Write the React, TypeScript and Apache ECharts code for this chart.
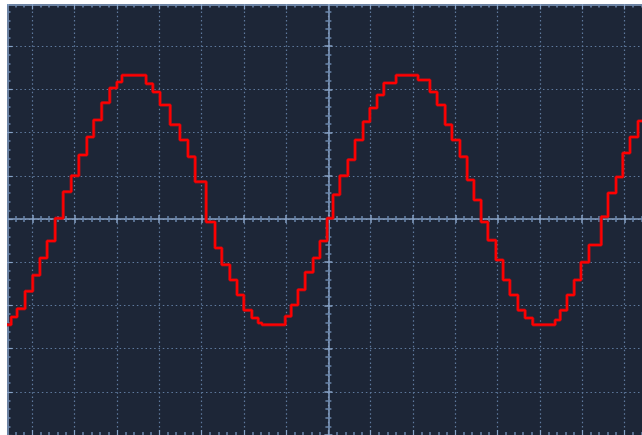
import { useEffect, useRef } from "react";
import * as echarts from "echarts";

// time in divisions (0 = trigger/centre), voltage in divisions
const timeDiv = [
  -7.6, -7.5, -7.36, -7.17, -6.99, -6.82, -6.65, -6.46, -6.27, -6.08, -5.9, -5.71, -5.55, -5.36, -5.17, -5.0,
  -4.88, -4.31, -4.15, -3.98, -3.74, -3.51, -3.32, -3.15, -2.89, -2.68, -2.52, -2.33, -2.16, -2.0, -1.81, -1.66,
  -1.57, -1.02, -0.88, -0.72, -0.55, -0.36, -0.2, -0.03, 0.11, 0.27, 0.46, 0.63, 0.82, 0.98, 1.15, 1.31,
  1.6, 2.12, 2.4, 2.57, 2.76, 2.92, 3.11, 3.28, 3.44, 3.61, 3.77, 3.96, 4.13, 4.29, 4.48, 4.65,
  4.83, 5.36, 5.48, 5.64, 5.81, 5.97, 6.16, 6.45, 6.61, 6.8, 6.96, 7.13, 7.32, 7.8,
];
const voltDiv = [
  -2.45, -2.27, -2.08, -1.67, -1.3, -0.9, -0.51, 0.02, 0.63, 1.0, 1.48, 1.9, 2.29, 2.69, 3.03, 3.17,
  3.33, 3.13, 2.94, 2.64, 2.18, 1.83, 1.44, 0.86, -0.07, -0.67, -1.06, -1.41, -1.76, -2.11, -2.29, -2.41,
  -2.45, -2.25, -1.99, -1.64, -1.23, -0.9, -0.51, 0.02, 0.56, 1.0, 1.37, 1.83, 2.25, 2.57, 2.87, 3.15,
  3.33, 3.22, 2.94, 2.64, 2.18, 1.83, 1.44, 0.9, 0.44, -0.07, -0.49, -0.95, -1.41, -1.76, -2.11, -2.29,
  -2.45, -2.34, -2.11, -1.76, -1.41, -1.0, -0.6, 0.05, 0.6, 0.97, 1.53, 1.9, 2.27, 2.27,
];

const X_MIN = -8;
const X_MAX = 8;
const Y_MIN = -5;
const Y_MAX = 5;

const BG = "#1d2637";
const AXIS = "#88a3c7";
const MINOR = "#6a86ab";
const DOT = "#5f7a9e";

export default function App() {
  const ref = useRef<HTMLDivElement>(null);
  useEffect(() => {
    document.body.style.margin = "0";
    document.body.style.background = "#ffffff";
    const chart = echarts.init(ref.current!, null, { renderer: "svg" });
    const data = timeDiv.map((t, i) => [t, voltDiv[i]]);
    const baseX = {
      type: "value" as const,
      min: X_MIN,
      max: X_MAX,
      interval: 1,
      axisLabel: { show: false },
      splitLine: { show: false },
    };
    const baseY = {
      type: "value" as const,
      min: Y_MIN,
      max: Y_MAX,
      interval: 1,
      axisLabel: { show: false },
      splitLine: { show: false },
    };
    chart.setOption({
      animation: false,
      backgroundColor: BG,
      grid: {
        left: -17,
        top: -1,
        width: 16 * 42.3,
        height: 432,
        containLabel: false,
        outerBoundsMode: "none",
      },
      xAxis: [
        {
          ...baseX,
          position: "bottom",
          axisLine: { show: true, onZero: true, onZeroAxisIndex: 0, lineStyle: { color: AXIS, width: 1.5 } },
          axisTick: { show: true, inside: true, length: 4, lineStyle: { color: AXIS, width: 1.5 } },
          minorTick: { show: true, splitNumber: 5, length: 3, lineStyle: { color: MINOR, width: 1.5 } },
          splitLine: { show: true, lineStyle: { color: DOT, width: 1.2, type: [1.5, 2.73] } },
        },
        {
          ...baseX,
          position: "bottom",
          axisLine: { show: false, onZero: true, onZeroAxisIndex: 0 },
          axisTick: { show: true, inside: false, length: 4, lineStyle: { color: AXIS, width: 1.5 } },
          minorTick: { show: true, splitNumber: 5, length: 3, lineStyle: { color: MINOR, width: 1.5 } },
        },
        {
          ...baseX,
          position: "top",
          offset: -1.5,
          axisLine: { show: true, onZero: false, lineStyle: { color: AXIS, width: 1.5 } },
          axisTick: { show: true, inside: true, length: 5, lineStyle: { color: AXIS, width: 1.2 } },
          minorTick: { show: true, splitNumber: 5, length: 3, lineStyle: { color: MINOR, width: 1.5 } },
        },
        {
          ...baseX,
          position: "bottom",
          axisLine: { show: false, onZero: false },
          axisTick: { show: true, inside: true, length: 5, lineStyle: { color: AXIS, width: 1.2 } },
          minorTick: { show: true, splitNumber: 5, length: 3, lineStyle: { color: MINOR, width: 1.5 } },
        },
      ],
      yAxis: [
        {
          ...baseY,
          position: "left",
          axisLine: { show: true, onZero: true, onZeroAxisIndex: 0, lineStyle: { color: AXIS, width: 1.5 } },
          axisTick: { show: true, inside: true, length: 4, lineStyle: { color: AXIS, width: 1.5 } },
          minorTick: { show: true, splitNumber: 5, length: 3, lineStyle: { color: MINOR, width: 1.5 } },
          splitLine: { show: true, lineStyle: { color: DOT, width: 1.2, type: [1.5, 2.82] } },
        },
        {
          ...baseY,
          position: "left",
          axisLine: { show: false, onZero: true, onZeroAxisIndex: 0 },
          axisTick: { show: true, inside: false, length: 4, lineStyle: { color: AXIS, width: 1.5 } },
          minorTick: { show: true, splitNumber: 5, length: 3, lineStyle: { color: MINOR, width: 1.5 } },
        },
        {
          ...baseY,
          position: "left",
          offset: -17.5,
          axisLine: { show: true, onZero: false, lineStyle: { color: AXIS, width: 1.5 } },
          axisTick: { show: true, inside: true, length: 5, lineStyle: { color: AXIS, width: 1.2 } },
          minorTick: { show: true, splitNumber: 5, length: 3, lineStyle: { color: MINOR, width: 1.5 } },
        },
      ],
      series: [
        {
          type: "line",
          xAxisIndex: 0,
          yAxisIndex: 0,
          step: "end",
          data,
          showSymbol: false,
          lineStyle: { color: "#a8121a", width: 3.5, opacity: 0.8 },
          z: 3,
        },
        {
          type: "line",
          xAxisIndex: 0,
          yAxisIndex: 0,
          step: "end",
          data,
          showSymbol: false,
          lineStyle: { color: "#ff0000", width: 2 },
          z: 4,
        },
      ],
    });
    return () => chart.dispose();
  }, []);
  return (
    <div style={{ width: 642, height: 435, background: "#ffffff", position: "relative", overflow: "hidden" }}>
      <div
        ref={ref}
        style={{ position: "absolute", left: 7, top: 4, width: 635, height: 431, overflow: "hidden" }}
      />
    </div>
  );
}
